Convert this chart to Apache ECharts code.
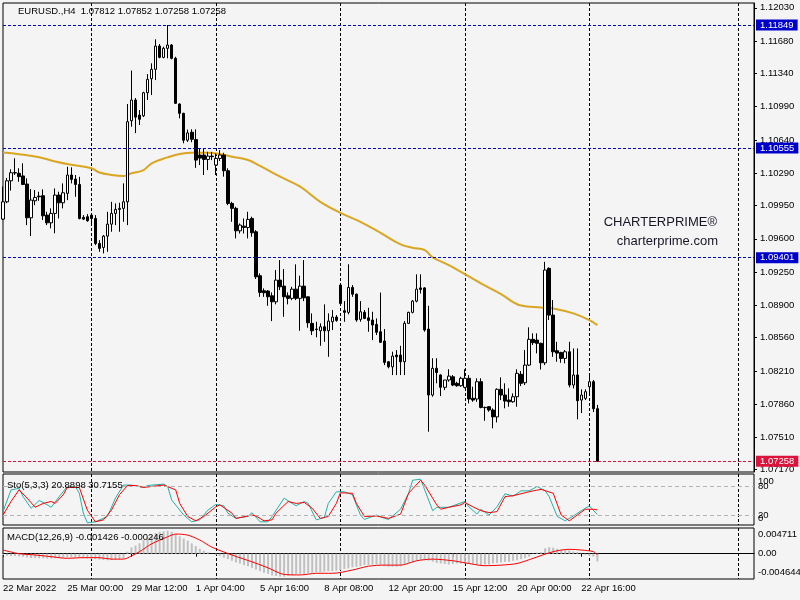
<!DOCTYPE html>
<html><head><meta charset="utf-8">
<script src="https://cdn.jsdelivr.net/npm/echarts@6/dist/echarts.min.js"></script>
<style>html,body{margin:0;padding:0;background:#f4f4f4;}#chart{width:800px;height:600px;}</style>
</head><body><div id="chart"></div>
<script>
// ---------------- data ----------------
const timeLabels = ['22 Mar 2022','25 Mar 00:00','29 Mar 12:00','1 Apr 04:00','5 Apr 16:00','8 Apr 08:00','12 Apr 20:00','15 Apr 12:00','20 Apr 00:00','22 Apr 16:00'];
const barsPerLabel = 16;
const slotCount = 188;
const weekStarts = [22, 53, 84, 115, 146, 183];
const priceTicks = [1.12030,1.11680,1.11340,1.10990,1.10640,1.10290,1.09950,1.09600,1.09250,1.08900,1.08560,1.08210,1.07860,1.07510,1.07170];
const levels = [1.11849, 1.10555, 1.09401];
const lastPrice = 1.07258;
const stochOuterTicks = [0, 100];
const stochInnerTicks = [20, 80];
const macdTicks = [-0.004644, 0, 0.004711];
const macdTickLabels = ['-0.004644', '0.00', '0.004711'];

const opens = [1.09807,1.09989,1.10210,1.10292,1.10289,1.10261,1.10176,1.09821,1.10000,1.10049,
1.10053,1.09849,1.09768,1.09867,1.10060,1.09979,1.10078,1.10271,1.10228,1.10172,
1.09825,1.09832,1.09849,1.09814,1.09551,1.09509,1.09628,1.09754,1.09867,1.09909,
1.09920,1.09989,1.10842,1.11060,1.10902,1.10894,1.11137,1.11284,1.11383,1.11628,
1.11509,1.11604,1.11639,1.11499,1.11018,1.10920,1.10637,1.10721,1.10644,1.10481,
1.10481,1.10435,1.10470,1.10376,1.10446,1.10481,1.10316,1.09972,1.09920,1.09684,
1.09733,1.09719,1.09814,1.09674,1.09211,1.09053,1.09050,1.09000,1.08937,1.09165,
1.09102,1.09000,1.08973,1.09070,1.08973,1.09102,1.08989,1.08710,1.08650,1.08632,
1.08674,1.08632,1.08727,1.08776,1.09113,1.08843,1.08826,1.09088,1.09017,1.08752,
1.08826,1.08768,1.08745,1.08699,1.08622,1.08524,1.08306,1.08253,1.08376,1.08376,
1.08306,1.08710,1.08826,1.08944,1.09083,1.09083,1.08650,1.07956,1.08237,1.08167,
1.08037,1.08114,1.08148,1.08079,1.08054,1.08037,1.08132,1.07921,1.07914,1.08096,
1.07826,1.07833,1.07798,1.07726,1.08016,1.07956,1.07903,1.07885,1.07938,1.08174,
1.08085,1.08271,1.08542,1.08534,1.08500,1.08295,1.09289,1.08797,1.08422,1.08404,
1.08341,1.08411,1.08061,1.08167,1.07903,1.07921,1.08043,1.08096,1.07812];
const highs = [1.10150,1.10240,1.10331,1.10447,1.10342,1.10394,1.10236,1.10123,1.10113,1.10095,
1.10120,1.09884,1.09920,1.10130,1.10095,1.10183,1.10358,1.10352,1.10271,1.10252,
1.09849,1.09860,1.09867,1.09849,1.09586,1.09639,1.09884,1.09989,1.09972,1.09979,
1.10183,1.11018,1.11370,1.11081,1.10955,1.11147,1.11333,1.11446,1.11699,1.11649,
1.11621,1.11849,1.11649,1.11515,1.11025,1.10926,1.10749,1.10752,1.10752,1.10554,
1.10554,1.10515,1.10515,1.10498,1.10533,1.10505,1.10342,1.09989,1.09937,1.09761,
1.09814,1.09884,1.09832,1.09691,1.09236,1.09078,1.09060,1.09036,1.09271,1.09376,
1.09281,1.09036,1.09095,1.09331,1.09211,1.09376,1.08995,1.08815,1.08727,1.08710,
1.08910,1.08815,1.08850,1.08797,1.09120,1.08944,1.09332,1.09113,1.09024,1.08944,
1.08850,1.08874,1.08832,1.08762,1.09034,1.08650,1.08313,1.08412,1.08429,1.08474,
1.08734,1.08832,1.08955,1.09226,1.09226,1.09091,1.08895,1.08343,1.08343,1.08174,
1.08114,1.08227,1.08166,1.08096,1.08148,1.08227,1.08166,1.08043,1.08132,1.08132,
1.07833,1.07840,1.07816,1.08026,1.08142,1.08079,1.08026,1.07973,1.08227,1.08209,
1.08429,1.08668,1.08605,1.08605,1.08507,1.09358,1.09299,1.08955,1.08516,1.08411,
1.08429,1.08516,1.08446,1.08446,1.08016,1.08016,1.08177,1.08114,1.07852];
const lows = [1.09797,1.09975,1.10107,1.10271,1.10200,1.10165,1.09744,1.09628,1.09954,1.10000,
1.09797,1.09744,1.09710,1.09658,1.09814,1.09920,1.10007,1.10183,1.10042,1.09804,
1.09797,1.09779,1.09744,1.09533,1.09463,1.09446,1.09463,1.09674,1.09744,1.09674,
1.09779,1.09744,1.10779,1.10712,1.10797,1.10881,1.11060,1.11112,1.11270,1.11499,
1.11499,1.11499,1.11488,1.11018,1.10867,1.10605,1.10619,1.10616,1.10346,1.10376,
1.10271,1.10323,1.10428,1.10271,1.10418,1.10254,1.09954,1.09779,1.09604,1.09656,
1.09656,1.09604,1.09621,1.09177,1.08989,1.08989,1.08895,1.08734,1.08910,1.09060,
1.08779,1.08910,1.08955,1.08955,1.08632,1.08944,1.08664,1.08587,1.08563,1.08474,
1.08516,1.08358,1.08639,1.08727,1.08902,1.08727,1.08805,1.08989,1.08727,1.08727,
1.08755,1.08622,1.08534,1.08587,1.08503,1.08271,1.08237,1.08166,1.08166,1.08166,
1.08166,1.08703,1.08815,1.08931,1.09024,1.08622,1.07570,1.07938,1.08079,1.07945,
1.08008,1.08096,1.08050,1.08043,1.08043,1.08026,1.07868,1.07885,1.07885,1.07816,
1.07685,1.07780,1.07606,1.07668,1.07903,1.07816,1.07833,1.07875,1.07833,1.08050,
1.08061,1.08261,1.08482,1.08394,1.08224,1.08271,1.08745,1.08358,1.08306,1.08295,
1.08289,1.08037,1.08026,1.07700,1.07766,1.07903,1.07956,1.07777,1.07258];
const closes = [1.09989,1.10210,1.10295,1.10297,1.10254,1.10172,1.09821,1.10007,1.10035,1.10042,
1.09842,1.09768,1.09867,1.10060,1.09979,1.10084,1.10271,1.10225,1.10172,1.09814,
1.09807,1.09790,1.09814,1.09551,1.09499,1.09628,1.09754,1.09867,1.09909,1.09920,
1.09989,1.10832,1.11060,1.10880,1.10857,1.11137,1.11278,1.11383,1.11628,1.11509,
1.11604,1.11639,1.11499,1.11025,1.10920,1.10637,1.10714,1.10647,1.10428,1.10449,
1.10435,1.10470,1.10464,1.10446,1.10481,1.10316,1.09972,1.09920,1.09684,1.09744,
1.09719,1.09804,1.09663,1.09200,1.09036,1.09032,1.08990,1.08937,1.09165,1.09095,
1.08990,1.08973,1.09070,1.08973,1.09102,1.08979,1.08716,1.08632,1.08645,1.08674,
1.08632,1.08734,1.08776,1.08741,1.08920,1.08826,1.09088,1.09017,1.08745,1.08832,
1.08762,1.08741,1.08692,1.08616,1.08511,1.08299,1.08253,1.08366,1.08358,1.08306,
1.08710,1.08826,1.08944,1.09070,1.09067,1.08640,1.07956,1.08237,1.08192,1.08037,
1.08114,1.08155,1.08061,1.08054,1.08132,1.08132,1.07914,1.07903,1.08096,1.07826,
1.07823,1.07798,1.07726,1.08016,1.07956,1.07892,1.07885,1.07938,1.08184,1.08079,
1.08271,1.08542,1.08507,1.08500,1.08295,1.09271,1.08797,1.08411,1.08397,1.08341,
1.08411,1.08061,1.08167,1.07896,1.07956,1.07991,1.08096,1.07812,1.07258];

// moving average, read at [bar, price]
const maPoints = [[0,1.10507],[4,1.10490],[9,1.10459],[13,1.10413],[17,1.10378],[22,1.10343],[24,1.10297],[27,1.10272],[30,1.10261],[32,1.10289],[35,1.10323],[37,1.10394],[41,1.10457],[44,1.10492],[47,1.10506],[51,1.10506],[54,1.10492],[57,1.10464],[61,1.10429],[64,1.10366],[69,1.10253],[74,1.10148],[79,1.09989],[84,1.09873],[89,1.09779],[94,1.09663],[99,1.09541],[102,1.09505],[105,1.09481],[107,1.09404],[111,1.09323],[115,1.09228],[119,1.09130],[124,1.09017],[129,1.08897],[134,1.08878],[137,1.08866],[142,1.08815],[146,1.08745],[148,1.08692]];

// stochastic main / signal, read at [bar, value]
const stochMain = [[0,27],[2,72],[4,75],[5,58],[7,34],[9,50],[10,46],[12,36],[14,58],[16,79],[18,79],[19,65],[20,24],[21,4],[23,6],[26,17],[28,55],[30,82],[32,82],[35,77],[36,81],[40,84],[41,79],[42,51],[45,20],[47,6],[49,10],[51,30],[53,42],[55,39],[56,24],[58,13],[61,17],[62,25],[64,6],[66,6],[67,17],[70,55],[72,44],[73,39],[75,48],[76,44],[78,10],[80,15],[81,44],[83,68],[85,68],[87,62],[89,20],[90,11],[93,20],[95,13],[96,11],[99,32],[101,65],[102,92],[104,94],[105,72],[107,29],[108,36],[111,36],[112,39],[115,48],[116,37],[118,22],[119,32],[121,20],[123,37],[125,64],[127,59],[129,70],[131,70],[133,79],[135,70],[136,58],[138,17],[140,8],[142,18],[144,29],[146,39],[148,20.8898]];
const stochSignal = [[0,20],[2,48],[4,72],[6,55],[8,36],[10,44],[12,48],[13,44],[15,62],[16,77],[19,77],[21,30],[23,6],[25,10],[27,30],[29,62],[31,81],[33,81],[35,77],[38,80],[40,82],[43,72],[44,44],[46,17],[48,8],[50,17],[53,37],[54,41],[57,24],[58,13],[62,20],[63,18],[65,8],[67,10],[68,24],[71,48],[73,44],[75,46],[77,34],[79,13],[81,17],[83,44],[84,66],[87,65],[88,44],[90,17],[93,18],[96,13],[99,22],[101,65],[104,92],[105,82],[108,41],[109,32],[111,36],[114,41],[115,46],[117,37],[119,29],[121,25],[123,27],[125,58],[127,60],[130,66],[132,70],[134,73],[137,65],[139,20],[141,8],[143,20],[145,32],[147,32],[148,30.7155]];

// MACD histogram per bar and signal line at [bar, value]
const macdHist = [-0.0003,-0.00037,-0.00043,-0.00043,-0.0005,-0.00055,-0.00067,-0.0008,-0.0008,-0.00085,
-0.00085,-0.0009,-0.0009,-0.00085,-0.0008,-0.00073,-0.00067,-0.00067,-0.00073,-0.0008,
-0.00085,-0.0009,-0.001,-0.001,-0.0011,-0.00116,-0.0012,-0.00116,-0.0011,-0.001,
-0.0009,0.00037,0.00116,0.0015,0.0019,0.0025,0.003,0.0034,0.0038,0.004,
0.0041,0.0042,0.004,0.0036,0.0032,0.0028,0.0024,0.0019,0.0014,0.0009,
0.00055,0.00025,0.00002,-0.0002,-0.00043,-0.00073,-0.001,-0.0013,-0.0016,-0.0018,
-0.0021,-0.0023,-0.0026,-0.0029,-0.0032,-0.0035,-0.0037,-0.004,-0.0041,-0.0042,
-0.0042,-0.0041,-0.004,-0.0038,-0.0037,-0.0037,-0.0036,-0.0035,-0.0034,-0.0034,
-0.0033,-0.0032,-0.0032,-0.0031,-0.003,-0.0028,-0.0027,-0.0025,-0.0024,-0.0023,
-0.0021,-0.0021,-0.002,-0.002,-0.0021,-0.0023,-0.0024,-0.0024,-0.0024,-0.0023,
-0.002,-0.0018,-0.0016,-0.0013,-0.0012,-0.0012,-0.0013,-0.0015,-0.0017,-0.0018,
-0.0019,-0.002,-0.0019,-0.0018,-0.0018,-0.0018,-0.0019,-0.002,-0.0021,-0.0021,
-0.002,-0.002,-0.0018,-0.0017,-0.0016,-0.0015,-0.0015,-0.0013,-0.0012,-0.001,
-0.0008,-0.00055,-0.00006,0.0002,0.0003,0.001,0.0012,0.0011,0.0009,0.0007,
0.00067,0.0006,0.0004,0.0003,0.00006,-0.0002,-0.0004,-0.00055,-0.001426];
const macdSignal = [[0,0.00067],[4,0.0],[8,-0.00024],[12,-0.00055],[16,-0.00085],[20,-0.00073],[24,-0.00073],[27,-0.001],[30,-0.001],[32,-0.0004],[34,0.00037],[37,0.0018],[41,0.0031],[43,0.0036],[46,0.0034],[49,0.0025],[52,0.0012],[57,-0.00024],[62,-0.0015],[66,-0.0026],[70,-0.0038],[74,-0.0039],[78,-0.0036],[82,-0.0036],[87,-0.003],[91,-0.0023],[95,-0.0021],[99,-0.0021],[103,-0.0013],[107,-0.001],[112,-0.0013],[116,-0.0018],[120,-0.0022],[124,-0.0021],[128,-0.0018],[132,-0.00085],[137,0.00037],[141,0.0008],[144,0.00067],[147,0.00037],[148,-0.000246]];

// ---------------- chart ----------------
const FONT = 'Liberation Sans';
const FS = 9.5;
const categories = [];
for (let i = 0; i < slotCount; i++) {
  const k = i / barsPerLabel;
  categories.push(Number.isInteger(k) && k < timeLabels.length ? timeLabels[k] : '');
}
const candleData = opens.map((o, i) => [o, closes[i], lows[i], highs[i]]);

const weekLine = { show: true, interval: (idx) => weekStarts.includes(idx), lineStyle: { color: '#000', type: [3, 2], width: 1 } };
function xAx(gi, showLabels) {
  return {
    type: 'category', gridIndex: gi, data: categories, boundaryGap: false,
    axisLine: { show: showLabels, lineStyle: { color: '#000' } },
    axisTick: { show: showLabels, interval: (i, v) => v !== '', length: 3, lineStyle: { color: '#000' } },
    axisLabel: { show: showLabels, interval: (i, v) => v !== '', align: 'left', color: '#000', fontFamily: FONT, fontSize: FS, margin: 4, hideOverlap: false },
    splitLine: weekLine
  };
}
const richBase = { fontFamily: FONT, fontSize: FS, color: '#000' };
function levelLabel(bg) {
  return { show: true, position: 'end', distance: 2, formatter: p => Number(p.value).toFixed(5), color: '#fff', backgroundColor: bg, padding: [1, 4, 0, 4], lineHeight: 10, fontFamily: FONT, fontSize: FS };
}
function stochAxis(ticks) {
  return { type: 'value', gridIndex: 1, position: 'right', min: -0.6, max: 104.8,
    axisLine: { show: false }, axisTick: { show: false },
    axisLabel: { customValues: ticks, margin: 4, hideOverlap: false,
      formatter: v => v === 100 ? '{dn|100}' : (v === 0 ? '{up|0}' : '{n|' + v + '}'),
      rich: { dn: Object.assign({ padding: [10, 0, 0, 0] }, richBase), up: Object.assign({ padding: [0, 0, 12, 0] }, richBase), n: richBase } },
    splitLine: { show: false } };
}

const option = {
  backgroundColor: '#f4f4f4',
  animation: false,
  grid: [
    { left: 3, top: 3, width: 751, height: 469, show: true, borderColor: '#000', borderWidth: 1, backgroundColor: 'transparent', outerBoundsMode: 'none' },
    { left: 3, top: 474, width: 751, height: 51, show: true, borderColor: '#000', borderWidth: 1, backgroundColor: 'transparent', outerBoundsMode: 'none' },
    { left: 3, top: 528, width: 751, height: 51, show: true, borderColor: '#000', borderWidth: 1, backgroundColor: 'transparent', outerBoundsMode: 'none' }
  ],
  xAxis: [xAx(0, false), xAx(1, false), xAx(2, true)],
  yAxis: [
    { type: 'value', gridIndex: 0, position: 'right', min: 1.07146, max: 1.12081,
      axisLine: { show: true, lineStyle: { color: '#000' } },
      axisTick: { show: true, customValues: priceTicks, length: 3, lineStyle: { color: '#000' } },
      axisLabel: { customValues: priceTicks, formatter: v => v.toFixed(5), color: '#000', fontFamily: FONT, fontSize: FS, margin: 6, hideOverlap: false },
      splitLine: { show: false } },
    stochAxis(stochOuterTicks),
    { type: 'value', gridIndex: 2, position: 'right', min: -0.004644, max: 0.004711,
      axisLine: { show: false }, axisTick: { show: false },
      axisLabel: { customValues: macdTicks, margin: 4, hideOverlap: false, showMinLabel: true, showMaxLabel: true,
        formatter: v => { const i = macdTicks.indexOf(v); const t = macdTickLabels[i]; return i === 2 ? '{dn|' + t + '}' : (i === 0 ? '{up|' + t + '}' : '{n|' + t + '}'); },
        rich: { dn: Object.assign({ padding: [12, 0, 0, 0] }, richBase), up: Object.assign({ padding: [0, 0, 13, 0] }, richBase), n: richBase } },
      splitLine: { show: false } },
    stochAxis(stochInnerTicks)
  ],
  series: [
    { type: 'line', xAxisIndex: 0, yAxisIndex: 0, data: maPoints, showSymbol: false, smooth: 0.4,
      lineStyle: { color: '#DAA520', width: 2 }, z: 2, silent: true },
    { type: 'candlestick', xAxisIndex: 0, yAxisIndex: 0, data: candleData, barWidth: 3, z: 3,
      itemStyle: { color: '#ffffff', color0: '#000000', borderColor: '#000000', borderColor0: '#000000', borderWidth: 1 },
      markLine: { symbol: ['none', 'none'], silent: true, z: 10, animation: false, precision: 5,
        data: levels.map(v => ({ yAxis: v, lineStyle: { color: '#0000CD', type: [3, 2], width: 1 }, label: levelLabel('#0000CD') }))
          .concat([{ yAxis: lastPrice, lineStyle: { color: '#DC143C', type: [3, 2], width: 1 }, label: levelLabel('#DC143C') }]) } },
    { type: 'line', xAxisIndex: 1, yAxisIndex: 1, data: stochMain, showSymbol: false,
      lineStyle: { color: '#20B2AA', width: 1 }, silent: true,
      markLine: { symbol: ['none', 'none'], silent: true, label: { show: false },
        lineStyle: { color: '#b4b4b4', type: [4, 3], width: 1 }, data: [{ yAxis: 80 }, { yAxis: 20 }] } },
    { type: 'line', xAxisIndex: 1, yAxisIndex: 1, data: stochSignal, showSymbol: false,
      lineStyle: { color: '#FF0000', width: 1 }, silent: true },
    { type: 'bar', xAxisIndex: 2, yAxisIndex: 2, data: macdHist, barWidth: 2,
      itemStyle: { color: '#C0C0C0' }, silent: true },
    { type: 'line', xAxisIndex: 2, yAxisIndex: 2, data: macdSignal, showSymbol: false, smooth: 0.3,
      lineStyle: { color: '#FF0000', width: 1 }, silent: true, z: 3 }
  ],
  graphic: [
    { type: 'text', z: 100, style: { x: 18, y: 11, text: 'EURUSD.,H4  1.07812 1.07852 1.07258 1.07258', font: FS + 'px "Liberation Sans"', fill: '#000', verticalAlign: 'middle' } },
    { type: 'text', z: 100, style: { x: 717, y: 222, text: 'CHARTERPRIME®', font: '13px "Liberation Sans"', fill: '#161626', align: 'right', verticalAlign: 'middle' } },
    { type: 'text', z: 100, style: { x: 718, y: 241, text: 'charterprime.com', font: '13px "Liberation Sans"', fill: '#161626', align: 'right', verticalAlign: 'middle' } },
    { type: 'text', z: 100, style: { x: 7, y: 485, text: 'Sto(5,3,3) 20.8898 30.7155', font: FS + 'px "Liberation Sans"', fill: '#000', verticalAlign: 'middle' } },
    { type: 'text', z: 100, style: { x: 7, y: 537, text: 'MACD(12,26,9) -0.001426 -0.000246', font: FS + 'px "Liberation Sans"', fill: '#000', verticalAlign: 'middle' } }
  ]
};
const chart = echarts.init(document.getElementById('chart'), null, { renderer: 'canvas' });
chart.setOption(option);
</script>
</body></html>
